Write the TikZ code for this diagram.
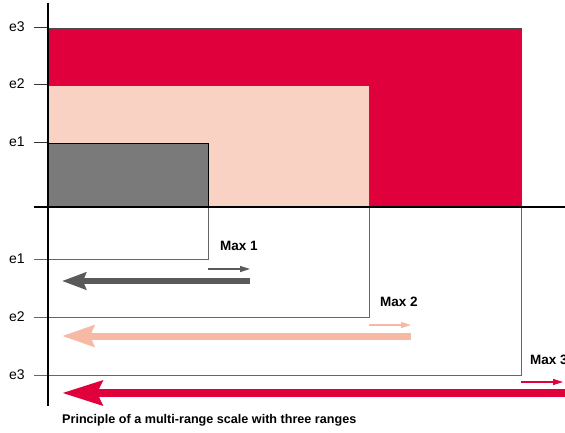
\documentclass[tikz,border=0pt]{standalone}
\usepackage{fontspec}
\setmainfont{Liberation Sans}
\usetikzlibrary{arrows.meta}
\definecolor{cred}{RGB}{224,0,60}
\definecolor{cpink}{RGB}{250,210,195}
\definecolor{cgray}{RGB}{122,122,122}
\definecolor{agray}{RGB}{90,90,90}
\definecolor{apink}{RGB}{247,185,163}
\tikzset{
  axis/.style={line width=1.6pt,black},
  tick/.style={line width=1pt,black!80},
  guide/.style={line width=1pt,black!60},
  lbl/.style={font=\fontsize{14}{14}\selectfont,anchor=west,inner sep=0pt},
  maxlbl/.style={font=\bfseries\fontsize{13.5}{13.5}\selectfont,anchor=west,inner sep=0pt},
  small/.style={line width=1.2pt,-{Stealth[length=10pt,width=6pt,inset=0pt]}},
}
\begin{document}
\begin{tikzpicture}[x=1pt,y=-1pt]
\useasboundingbox (0,0) rectangle (565,433);
% rectangles
\fill[cred] (48,28) rectangle (521,207);
\draw[line width=0.8pt,black!70] (48,28) -- (521,28) -- (521,207);
\fill[cpink] (48,85) rectangle (369,207);
\draw[line width=0.8pt,black!70] (48,85) -- (369,85) -- (369,207);
\fill[cgray] (48,143) rectangle (208,207);
\draw[line width=0.8pt,black] (48,143) -- (208,143) -- (208,207);
% guides below
\coordinate (g1) at (208,207);
\coordinate (g2) at (369,207);
\coordinate (g3) at (521,207);
\draw[guide] (34,259) -| (g1);
\draw[guide] (34,317) -| (g2);
\draw[guide] (34,375) -| (g3);
% ticks
\draw[tick] (34,28) -- (48,28);
\draw[tick] (34,85) -- (48,85);
\draw[tick] (34,143) -- (48,143);
% axes
\draw[axis] (48,3) -- (48,406);
\draw[axis] (34,207) -- (565,207);
% labels
\node[lbl] (l3) at (9,27) {e3};
\node[lbl] (l2) at (9,84) {e2};
\node[lbl] (l1) at (9,142) {e1};
\node[lbl] (m1) at (9,259) {e1};
\node[lbl] (m2) at (9,317) {e2};
\node[lbl] (m3) at (9,375) {e3};
% big arrows
\coordinate (a1s) at (250,281); \coordinate (a1e) at (62,281);
\coordinate (a2s) at (411,336); \coordinate (a2e) at (62,336);
\coordinate (a3s) at (565,393); \coordinate (a3e) at (62,393);
\draw[agray,line width=6pt,-{Stealth[length=24pt,width=17pt,inset=3pt]}] (a1s) -- (a1e);
\draw[apink,line width=7pt,-{Stealth[length=32pt,width=21pt,inset=4pt]}] (a2s) -- (a2e);
\draw[cred,line width=8pt,-{Stealth[length=40pt,width=24pt,inset=5pt]}] (a3s) -- (a3e);
% small arrows
\coordinate (s1a) at (208,269); \coordinate (s1b) at (250,269);
\coordinate (s2a) at (369,325); \coordinate (s2b) at (411,325);
\coordinate (s3a) at (521,382); \coordinate (s3b) at (563,382);
\draw[small,agray] (s1a) -- (s1b);
\draw[small,apink] (s2a) -- (s2b);
\draw[small,cred] (s3a) -- (s3b);
% max labels
\node[maxlbl] (x1) at (220,246) {Max 1};
\node[maxlbl] (x2) at (380,302) {Max 2};
\node[maxlbl] (x3) at (530,360) {Max 3};
% caption
\node[font=\bfseries\fontsize{12.6}{12.6}\selectfont,anchor=west,inner sep=0pt] (cap) at (62,420) {Principle of a multi-range scale with three ranges};
\end{tikzpicture}
\end{document}
